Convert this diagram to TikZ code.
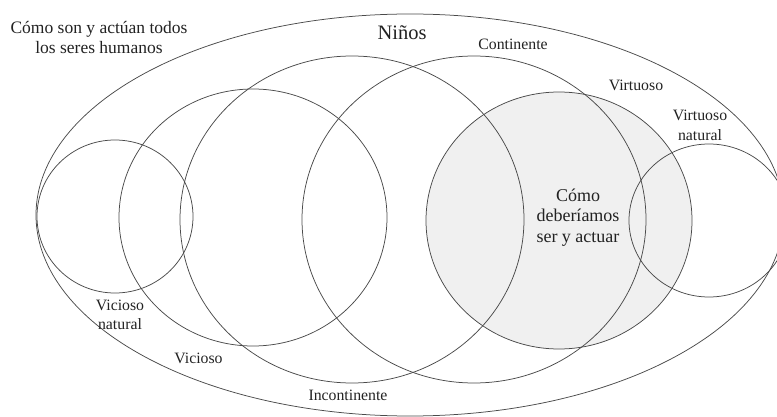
\documentclass[tikz,border=0pt]{standalone}
\usepackage{fontspec}
\setmainfont{Liberation Serif}
\definecolor{linegray}{HTML}{4A4A4A}
\definecolor{inkgray}{HTML}{222222}
\definecolor{idealfill}{HTML}{F0F0F0}
\begin{document}
\begin{tikzpicture}[x=1pt,y=-1pt,
  setline/.style={draw=linegray,line width=0.75pt},
  lbl/.style={text=inkgray,align=center,inner sep=0pt,
    font=\fontsize{15.8}{19}\selectfont}]
\useasboundingbox (0,0) rectangle (777,417);
\clip (0,0) rectangle (777,417);

% shaded set: how we ought to be and act
\fill[idealfill] (559,220.5) ellipse [x radius=133, y radius=128.5];

% all human beings
\draw[setline] (410,215) ellipse [x radius=374, y radius=201];
% vicioso natural
\draw[setline] (115,216.5) ellipse [x radius=78, y radius=76.5];
% vicioso
\draw[setline] (253,217.5) ellipse [x radius=134, y radius=128.5];
% incontinente
\draw[setline] (352,219.5) ellipse [x radius=172, y radius=163.5];
% continente
\draw[setline] (474,219.5) ellipse [x radius=172, y radius=163.5];
% virtuoso
\draw[setline] (559,220.5) ellipse [x radius=133, y radius=128.5];
% virtuoso natural
\draw[setline] (709,220.5) ellipse [x radius=80, y radius=76.5];

% labels
\node[lbl,font=\fontsize{17.5}{20}\selectfont] (humanos) at (99,38)
  {Cómo son y actúan todos\\los seres humanos};
\node[lbl,font=\fontsize{20.5}{24}\selectfont] (ninos) at (402,33) {Niños};
\node[lbl] (continente) at (513,44) {Continente};
\node[lbl] (virtuoso) at (636,85.5) {Virtuoso};
\node[lbl,font=\fontsize{15.8}{20}\selectfont] (virtnat) at (700,125.5)
  {Virtuoso\\natural};
\node[lbl,font=\fontsize{18}{20.5}\selectfont] (ideal) at (578,217.5)
  {Cómo\\deberíamos\\ser y actuar};
\node[lbl,font=\fontsize{15.8}{19}\selectfont] (vicnat) at (120,314.5)
  {Vicioso\\natural};
\node[lbl] (vicioso) at (198.5,358) {Vicioso};
\node[lbl] (incontinente) at (348,395.5) {Incontinente};
\end{tikzpicture}
\end{document}
